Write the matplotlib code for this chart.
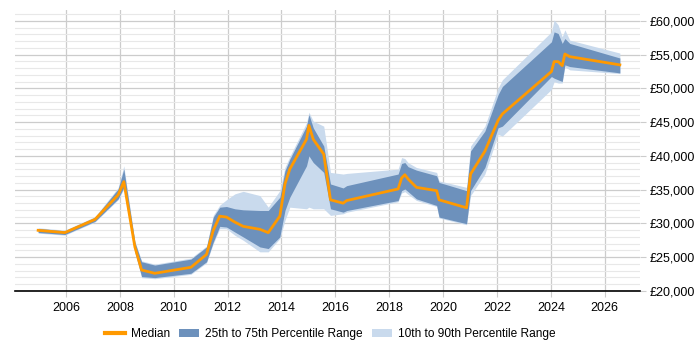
import matplotlib.pyplot as plt
from matplotlib.lines import Line2D
from matplotlib.patches import Patch
from matplotlib.ticker import FuncFormatter, MultipleLocator

plt.rcParams['font.family'] = ['Liberation Sans', 'DejaVu Sans']

# salary percentiles over time
years = [2004.97, 2005.96, 2007.08, 2007.94, 2008.15, 2008.56, 2008.81, 2009.30,
         2010.64, 2011.22, 2011.47, 2011.71, 2011.96, 2012.27, 2012.58, 2013.20,
         2013.51, 2013.94, 2014.13, 2014.31, 2014.93, 2015.02, 2015.18, 2015.57,
         2015.82, 2016.29, 2016.42, 2018.33, 2018.46, 2018.58, 2018.70, 2019.01,
         2019.76, 2019.85, 2020.87, 2021.02, 2021.55, 2022.04, 2022.20, 2024.02,
         2024.12, 2024.27, 2024.42, 2024.52, 2024.70, 2026.56]
median = [28970, 28630, 30590, 34220, 36180, 26510, 23090, 22600,
          23490, 25400, 28970, 31070, 30930, 30190, 29560, 29120,
          28630, 31070, 35840, 38040, 42460, 44510, 42460, 40250,
          33490, 32990, 33380, 35100, 36720, 37210, 36570, 35340,
          34850, 33490, 32310, 37310, 40690, 45250, 46220, 52500,
          53970, 53970, 53380, 55100, 54710, 53490]
p25 = [28650, 28350, 30300, 33630, 35340, 25800, 22110, 21960,
       22600, 24310, 27250, 29560, 29460, 28720, 27990, 26510,
       26270, 27990, 31910, 33870, 38530, 40000, 39020, 37550,
       32160, 31660, 31900, 33380, 34850, 35100, 34700, 33630,
       32650, 30930, 29950, 34850, 38280, 44160, 44410, 51760,
       51520, 51270, 51030, 53490, 53240, 52300]
p75 = [29250, 28900, 30900, 35100, 38040, 27200, 24310, 23820,
       24700, 26510, 30930, 32400, 32500, 32160, 32010, 31910,
       31910, 33870, 37790, 39510, 44410, 46130, 44160, 41470,
       35840, 35250, 35590, 37310, 38880, 39020, 38400, 37890,
       37060, 36070, 34850, 40740, 43680, 49070, 50290, 56910,
       58380, 58140, 56670, 57400, 56670, 54510]
p10 = [28550, 28250, 30200, 33500, 35100, 25600, 21950, 21800,
       22450, 24150, 27000, 29220, 29200, 28240, 27500, 25780,
       25780, 27750, 30440, 32400, 32160, 32400, 32160, 32160,
       31180, 31420, 31650, 33200, 34500, 34700, 34300, 33400,
       32500, 30800, 29800, 34120, 37310, 43190, 42940, 49850,
       51000, 50800, 50800, 53200, 52750, 52200]
p90 = [29350, 29000, 31000, 35300, 38530, 27400, 24450, 23950,
       24850, 26650, 31200, 32700, 33500, 34370, 34750, 34120,
       32400, 34850, 38300, 39900, 44900, 46470, 45150, 44410,
       37550, 37310, 37400, 38040, 39750, 39600, 39000, 38280,
       37550, 36300, 35340, 41470, 44400, 50050, 51280, 58380,
       60150, 59410, 57650, 58680, 57160, 55240]

median_color = '#ff9900'
iqr_color = '#6d91bc'
outer_color = '#c9daed'

fig = plt.figure(figsize=(7, 3.5), dpi=100)
ax = fig.add_axes([0.021, 0.169, 0.893, 0.802])

ax.fill_between(years, p10, p90, color=outer_color, linewidth=0)
ax.fill_between(years, p25, p75, color=iqr_color, linewidth=0)
ax.plot(years, median, color=median_color, linewidth=2)

ax.set_xlim(2004.1, 2027.3)
ax.set_ylim(20000, 61600)

ax.set_xticks(range(2006, 2027, 2))
ax.yaxis.set_major_locator(MultipleLocator(5000))
ax.yaxis.set_minor_locator(MultipleLocator(1000))
ax.yaxis.set_major_formatter(FuncFormatter(lambda v, p: '£{:,.0f}'.format(v)))
ax.yaxis.tick_right()

ax.grid(True, which='major', axis='both', color='#cccccc', linewidth=0.9)
ax.grid(True, which='minor', axis='y', color='#e8e8e8', linewidth=0.8)
ax.set_axisbelow(True)

for s in ['top', 'left', 'right']:
    ax.spines[s].set_visible(False)
ax.spines['bottom'].set_color('black')
ax.spines['bottom'].set_linewidth(1.2)

ax.tick_params(axis='x', length=4, color='#cccccc', labelsize=9, pad=4)
ax.tick_params(axis='y', which='major', length=4, color='#cccccc', labelsize=9, pad=3)
ax.tick_params(axis='y', which='minor', length=0)

handles = [Line2D([], [], color=median_color, linewidth=3),
           Patch(facecolor=iqr_color, edgecolor='none'),
           Patch(facecolor=outer_color, edgecolor='none')]
labels = ['Median', '25th to 75th Percentile Range', '10th to 90th Percentile Range']
fig.legend(handles, labels, loc='center', bbox_to_anchor=(0.472, 0.045), ncol=3,
           frameon=False, fontsize=8.6, handlelength=1.65, columnspacing=0.8,
           handletextpad=0.5)

fig.savefig('out.png', dpi=100)
